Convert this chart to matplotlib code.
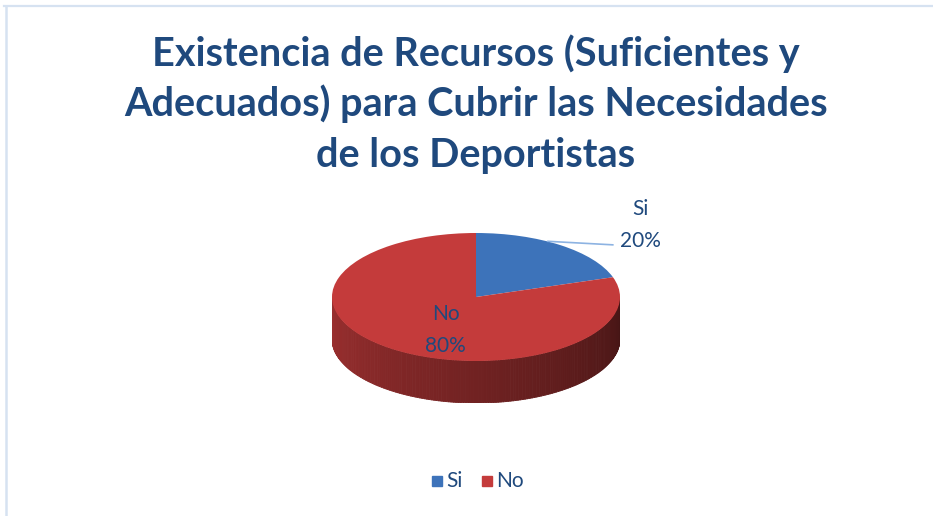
import numpy as np
import matplotlib
matplotlib.use("Agg")
import matplotlib.pyplot as plt
from matplotlib.collections import PolyCollection
from matplotlib.lines import Line2D
from matplotlib.patches import Rectangle

# ---- data ----
categories = ["Si", "No"]
values = [20, 80]
colors = ["#3d73ba", "#c43b3b"]
title_lines = ["Existencia de Recursos (Suficientes y",
               "Adecuados) para Cubrir las Necesidades",
               "de los Deportistas"]

W, H = 933, 516
fig = plt.figure(figsize=(W / 100, H / 100), dpi=100)
fig.patch.set_facecolor("white")

FONT = "Lato"
TXT = "#1f497d"

def fx(px):
    return px / W

def fy(py):
    return 1 - py / H

# frame lines
fig.add_artist(Line2D([fx(4), fx(933)], [fy(5.5), fy(5.5)], color="#d6e2f1", lw=1.6))
fig.add_artist(Line2D([fx(6), fx(6)], [fy(5.5), fy(516)], color="#d6e2f1", lw=1.8))

# title
for txt, base in zip(title_lines, [66, 116, 167]):
    fig.text(fx(476), fy(base), txt, ha="center", va="baseline",
             fontsize=28.5, fontweight="bold", color=TXT, family=FONT)

# ---- pie axes ----
top_px, bot_px, left_px, right_px = 233, 403, 332, 620
ry_px = 64.0
depth = (bot_px - top_px - 2 * ry_px) / ry_px
ax = fig.add_axes([fx(left_px), fy(bot_px), (right_px - left_px) / W, (bot_px - top_px) / H])
ax.axis("off")

# side (3-D rim) built from the slice angles
total = float(sum(values))
cum = np.concatenate([[0], np.cumsum(values) / total])
def slice_of(theta_deg):
    f = ((90 - theta_deg) % 360) / 360.0
    return min(np.searchsorted(cum, f, side="right") - 1, len(values) - 1)

thetas = np.linspace(180, 360, 181)
polys, fcols = [], []
for t1, t2 in zip(thetas[:-1], thetas[1:]):
    a1, a2 = np.radians(t1), np.radians(t2)
    idx = slice_of((t1 + t2) / 2)
    base = np.array(matplotlib.colors.to_rgb(colors[idx]))
    s = (t1 - 180) / 180.0
    shade = 0.80 - 0.45 * s
    polys.append([(np.cos(a1), np.sin(a1)), (np.cos(a2), np.sin(a2)),
                  (np.cos(a2), np.sin(a2) - depth), (np.cos(a1), np.sin(a1) - depth)])
    fcols.append(tuple(base * shade))
ax.add_collection(PolyCollection(polys, facecolors=fcols, edgecolors=fcols, linewidths=0.6))

# top surface
ax.pie(values, colors=colors, startangle=90, counterclock=False, radius=1,
       wedgeprops=dict(linewidth=0))
ax.set_aspect("auto")
ax.set_xlim(-1, 1)
ax.set_ylim(-1 - depth, 1)

# data labels
ax.text(-0.21, -0.26, f"{categories[1]}", ha="center", va="center",
        fontsize=15, color=TXT, family=FONT)
ax.text(-0.21, -0.76, f"{values[1]}%", ha="center", va="center",
        fontsize=15, color=TXT, family=FONT)
ax.plot([0.5, 0.95], [0.87, 0.815], color="#8db3e2", lw=1.2, clip_on=False)
ax.text(1.14, 1.37, f"{categories[0]}", ha="center", va="center",
        fontsize=15, color=TXT, family=FONT, clip_on=False)
ax.text(1.14, 0.87, f"{values[0]}%", ha="center", va="center",
        fontsize=15, color=TXT, family=FONT, clip_on=False)

# legend
leg_y = 481
xs = [432, 482]
for x0, cat, col in zip(xs, categories, colors):
    fig.add_artist(Rectangle((fx(x0), fy(leg_y + 5)), 10 / W, 10 / H, color=col,
                             transform=fig.transFigure))
    fig.text(fx(x0 + 14), fy(leg_y), cat, ha="left", va="center",
             fontsize=15, color=TXT, family=FONT)

fig.savefig("out.png", dpi=100)
